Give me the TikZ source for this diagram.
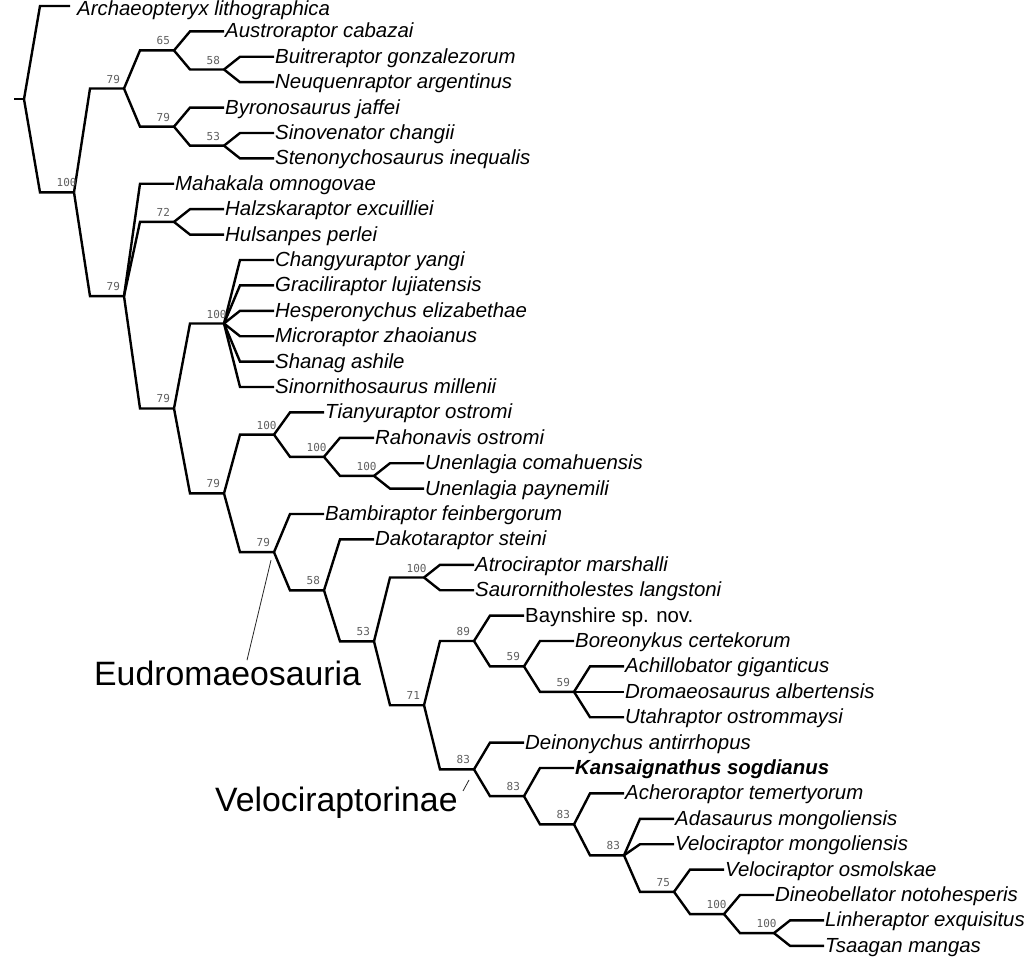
\documentclass[tikz,border=0pt]{standalone}
\usepackage{fontspec}
\setmainfont{Liberation Sans}
\newfontfamily\bootfont{DejaVu Sans Mono}
\usepackage{xcolor}
\usepackage{tikz}
\usetikzlibrary{positioning, calc}
\definecolor{BootGray}{RGB}{95, 95, 95}

\tikzset{
  branch/.style={line width=2.4pt, black},
  taxon/.style={anchor=west, inner sep=1pt, text height=17.5pt, text depth=4.5pt,
                font=\fontsize{20.4}{24}\selectfont\itshape},
  boot/.style={anchor=west, inner sep=0pt, xshift=-17.5pt, yshift=9.5pt,
               text=BootGray, font=\bootfont\fontsize{11}{12}\selectfont},
  clade/.style={anchor=base west, inner sep=0pt, font=\fontsize{33.8}{36}\selectfont},
  pointer/.style={line width=0.8pt, black!85}
}

\begin{document}
\begin{tikzpicture}[x=1pt, y=-25.4pt]
    \useasboundingbox (0,-0.23622) rectangle (1024,37.44094);

    % internal nodes (x = depth, y = leaf rows)
    \coordinate (stem) at (14, 3.66808);
    \coordinate (root) at (24, 3.66808);
    \coordinate (cA)  at (74, 7.33615);
    \coordinate (cB)  at (124, 3.25);
    \coordinate (cD)  at (174, 1.75);
    \coordinate (cF)  at (224, 2.5);
    \coordinate (cE)  at (174, 4.75);
    \coordinate (cG)  at (224, 5.5);
    \coordinate (cC)  at (124, 11.42230);
    \coordinate (cH)  at (174, 8.5);
    \coordinate (cI)  at (174, 15.84460);
    \coordinate (cJ)  at (224, 12.5);
    \coordinate (cK)  at (224, 19.18921);
    \coordinate (cL)  at (274, 16.875);
    \coordinate (cN)  at (324, 17.75);
    \coordinate (cO)  at (374, 18.5);
    \coordinate (cM)  at (274, 21.50342);
    \coordinate (cP)  at (324, 23.00684);
    \coordinate (cQ)  at (374, 25.01367);
    \coordinate (cR)  at (424, 22.5);
    \coordinate (cS)  at (424, 27.52734);
    \coordinate (cT)  at (474, 25);
    \coordinate (cV)  at (524, 26);
    \coordinate (cW)  at (574, 27);
    \coordinate (cU)  at (474, 30.05469);
    \coordinate (cX)  at (524, 31.10938);
    \coordinate (cY)  at (574, 32.21875);
    \coordinate (cZ)  at (624, 33.4375);
    \coordinate (cAA) at (674, 34.875);
    \coordinate (cAB) at (724, 35.75);
    \coordinate (cAC) at (774, 36.5);

    % taxa
    \coordinate (archTip) at (70, 0);
    \node[taxon, right=6pt of archTip, yshift=-3pt] (archaeo) {Archaeopteryx lithographica};
    \node[taxon] (austro)   at (224, 1) {Austroraptor cabazai};
    \node[taxon] (buitre)   at (274, 2) {Buitreraptor gonzalezorum};
    \node[taxon] (neuquen)  at (274, 3) {Neuquenraptor argentinus};
    \node[taxon] (byrono)   at (224, 4) {Byronosaurus jaffei};
    \node[taxon] (sinov)    at (274, 5) {Sinovenator changii};
    \node[taxon] (steno)    at (274, 6) {Stenonychosaurus inequalis};
    \node[taxon] (mahakala) at (174, 7) {Mahakala omnogovae};
    \node[taxon] (halszka)  at (224, 8) {Halzskaraptor excuilliei};
    \node[taxon] (hulsan)   at (224, 9) {Hulsanpes perlei};
    \node[taxon] (changyu)  at (274, 10) {Changyuraptor yangi};
    \node[taxon] (gracili)  at (274, 11) {Graciliraptor lujiatensis};
    \node[taxon] (hespero)  at (274, 12) {Hesperonychus elizabethae};
    \node[taxon] (micro)    at (274, 13) {Microraptor zhaoianus};
    \node[taxon] (shanag)   at (274, 14) {Shanag ashile};
    \node[taxon] (sinorn)   at (274, 15) {Sinornithosaurus millenii};
    \node[taxon] (tianyu)   at (324, 16) {Tianyuraptor ostromi};
    \node[taxon] (rahon)    at (374, 17) {Rahonavis ostromi};
    \node[taxon] (unencom)  at (424, 18) {Unenlagia comahuensis};
    \node[taxon] (unenpay)  at (424, 19) {Unenlagia paynemili};
    \node[taxon] (bambi)    at (324, 20) {Bambiraptor feinbergorum};
    \node[taxon] (dakota)   at (374, 21) {Dakotaraptor steini};
    \node[taxon] (atroci)   at (474, 22) {Atrociraptor marshalli};
    \node[taxon] (saurorn)  at (474, 23) {Saurornitholestes langstoni};
    \node[taxon] (baynsh)   at (524, 24) {\upshape Baynshire sp. nov.};
    \node[taxon] (boreo)    at (574, 25) {Boreonykus certekorum};
    \node[taxon] (achillo)  at (624, 26) {Achillobator giganticus};
    \node[taxon] (dromaeo)  at (624, 27) {Dromaeosaurus albertensis};
    \node[taxon] (utah)     at (624, 28) {Utahraptor ostrommaysi};
    \node[taxon] (deinon)   at (524, 29) {Deinonychus antirrhopus};
    \node[taxon] (kansai)   at (574, 30) {\bfseries Kansaignathus sogdianus};
    \node[taxon] (achero)   at (624, 31) {Acheroraptor temertyorum};
    \node[taxon] (adasau)   at (674, 32) {Adasaurus mongoliensis};
    \node[taxon] (velmong)  at (674, 33) {Velociraptor mongoliensis};
    \node[taxon] (velosm)   at (724, 34) {Velociraptor osmolskae};
    \node[taxon] (dineo)    at (774, 35) {Dineobellator notohesperis};
    \node[taxon] (linher)   at (824, 36) {Linheraptor exquisitus};
    \node[taxon] (tsaagan)  at (824, 37) {Tsaagan mangas};

    % branches
    \draw[branch] (stem) -- (root);
    \foreach \p/\c in {root/archTip, root/cA, cA/cB, cA/cC,
                       cB/cD, cB/cE, cD/austro.west, cD/cF, cF/buitre.west, cF/neuquen.west,
                       cE/byrono.west, cE/cG, cG/sinov.west, cG/steno.west,
                       cC/mahakala.west, cC/cH, cC/cI, cH/halszka.west, cH/hulsan.west,
                       cI/cJ, cI/cK, cJ/changyu.west, cJ/gracili.west, cJ/hespero.west,
                       cJ/micro.west, cJ/shanag.west, cJ/sinorn.west,
                       cK/cL, cK/cM, cL/tianyu.west, cL/cN, cN/rahon.west, cN/cO,
                       cO/unencom.west, cO/unenpay.west,
                       cM/bambi.west, cM/cP, cP/dakota.west, cP/cQ, cQ/cR, cQ/cS,
                       cR/atroci.west, cR/saurorn.west, cS/cT, cS/cU,
                       cT/baynsh.west, cT/cV, cV/boreo.west, cV/cW,
                       cW/achillo.west, cW/dromaeo.west, cW/utah.west,
                       cU/deinon.west, cU/cX, cX/kansai.west, cX/cY, cY/achero.west, cY/cZ,
                       cZ/adasau.west, cZ/velmong.west, cZ/cAA, cAA/velosm.west, cAA/cAB,
                       cAB/dineo.west, cAB/cAC, cAC/linher.west, cAC/tsaagan.west}
      \draw[branch] (\p) -- ($(\p |- \c)+(16pt,0)$) -- (\c);

    % support values
    \foreach \n/\v in {cA/100, cB/79, cD/65, cF/58, cE/79, cG/53, cC/79, cH/72,
                       cI/79, cJ/100, cK/79, cL/100, cN/100, cO/100, cM/79, cP/58,
                       cQ/53, cR/100, cS/71, cT/89, cV/59, cW/59, cU/83, cX/83,
                       cY/83, cZ/83, cAA/75, cAB/100, cAC/100}
      \node[boot] at (\n) {\v};

    % clade names
    \node[clade] (eudro) at ([shift={(-180pt,-133pt)}]cM) {Eudromaeosauria};
    \coordinate (eudroTip) at ([shift={(-3pt,-8pt)}]cM);
    \coordinate (eudroEnd) at ([shift={(-27pt,-108pt)}]cM);
    \draw[pointer] (eudroTip) -- (eudroEnd);

    \node[clade] (veloc) at ([shift={(-259pt,-42.6pt)}]cU) {Velociraptorinae};
    \coordinate (velocTip) at ([shift={(-5pt,-10.6pt)}]cU);
    \coordinate (velocEnd) at ([shift={(-11pt,-21.6pt)}]cU);
    \draw[pointer] (velocTip) -- (velocEnd);
  \end{tikzpicture}
\end{document}
